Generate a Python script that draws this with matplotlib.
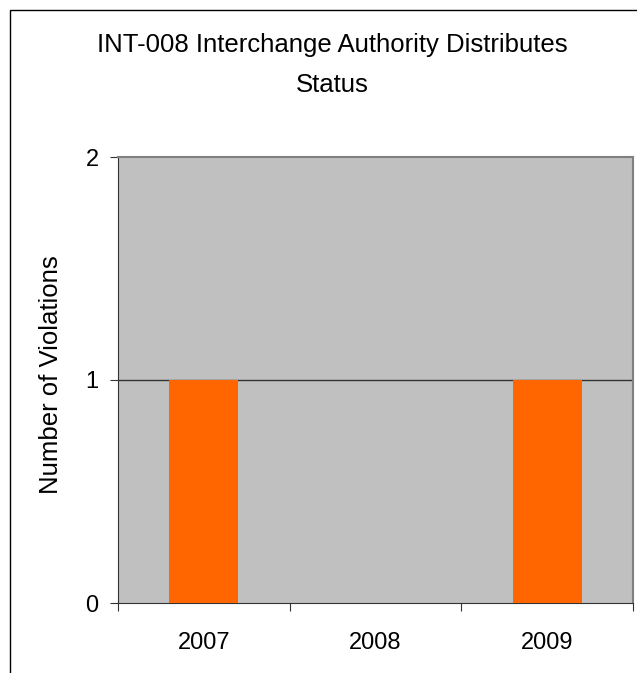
import matplotlib
matplotlib.use('Agg')
import matplotlib.pyplot as plt
from matplotlib.patches import Rectangle

plt.rcParams['font.family'] = ['Liberation Sans', 'DejaVu Sans']

# chart data
years = ['2007', '2008', '2009']
violations = [1, 0, 1]
y_ticks = [0, 1, 2]

fig = plt.figure(figsize=(6.37, 6.73), dpi=100)
W, H = 637, 673

# outer chart frame (cropped on right/bottom in the original)
fig.patches.append(Rectangle((10 / W, -0.1), 1.2, (H - 10) / H + 0.1,
                             transform=fig.transFigure, fill=False,
                             edgecolor='black', linewidth=1.0))

ax = fig.add_axes([118 / W, (H - 603) / H, (633 - 118) / W, (603 - 157) / H])
ax.set_facecolor('#C0C0C0')

x = range(len(years))
ax.bar(x, violations, width=0.4, color='#FF6600', zorder=3)

ax.set_xlim(-0.5, len(years) - 0.5)
ax.set_ylim(0, 2)

# gridline at each y tick
for v in y_ticks[1:-1]:
    ax.axhline(v, color='#333333', linewidth=1.0, zorder=2)

ax.set_yticks(y_ticks)
ax.set_yticklabels([str(v) for v in y_ticks], fontsize=17)

# major ticks between categories, labels at centres
ax.set_xticks([i - 0.5 for i in range(len(years) + 1)])
ax.set_xticklabels([])
ax.set_xticks(list(x), minor=True)
ax.set_xticklabels(years, minor=True, fontsize=17)
ax.tick_params(axis='x', which='minor', length=0, pad=21)
ax.tick_params(axis='x', which='major', direction='out', length=6, color='#333333')
ax.tick_params(axis='y', direction='out', length=6, pad=8, color='#333333')

for side in ['top', 'right']:
    ax.spines[side].set_color('#808080')
    ax.spines[side].set_linewidth(1.5)
for side in ['left', 'bottom']:
    ax.spines[side].set_color('#333333')

fig.text(51 / W, 1 - 375 / H, 'Number of Violations', rotation=90,
         ha='center', va='center', fontsize=18.5)
fig.text(332 / W, 1 - 45 / H, 'INT-008 Interchange Authority Distributes',
         ha='center', va='center', fontsize=18.5)
fig.text(332 / W, 1 - 85 / H, 'Status', ha='center', va='center', fontsize=18.5)

fig.savefig('out.png', dpi=100)
